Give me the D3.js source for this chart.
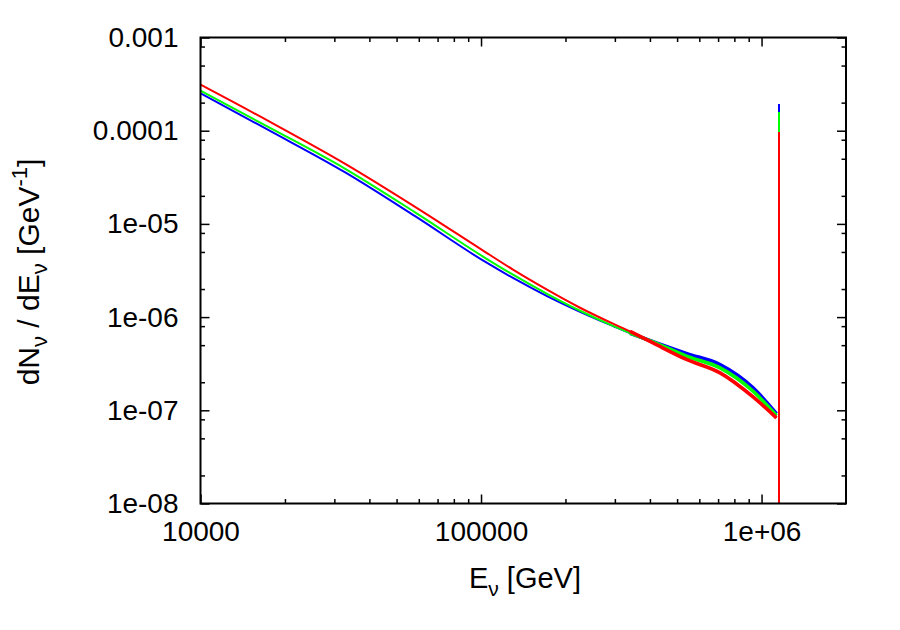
<!DOCTYPE html>
<html>
<head>
<meta charset="utf-8">
<script src="https://cdn.jsdelivr.net/npm/d3@7"></script>
<style>
  html, body { margin: 0; padding: 0; background: #fff; }
  svg { display: block; }
  text { font-family: "Liberation Sans", Arial, sans-serif; fill: #000; }
</style>
</head>
<body>
<svg id="chart" width="900" height="630"></svg>
<script>
// ---- data ----
const energy = [1.0e4, 1.77e4, 3.28e4, 5.82e4, 1.033e5, 1.30e5, 1.719e5, 2.254e5, 2.955e5, 3.398e5, 4.104e5, 5.425e5, 7.112e5, 9.327e5, 1.13e6];
const blueValues  = [2.52e-4, 9.95e-5, 3.57e-5, 1.21e-5, 3.93e-6, 2.63e-6, 1.68e-6, 1.14e-6, 8.01e-7, 6.72e-7, 5.45e-7, 4.05e-7, 3.09e-7, 1.74e-7, 9.22e-8];
const greenValues = [2.69e-4, 1.072e-4, 3.90e-5, 1.33e-5, 4.33e-6, 2.85e-6, 1.78e-6, 1.17e-6, 8.05e-7, 6.75e-7, 5.41e-7, 3.79e-7, 2.85e-7, 1.60e-7, 8.78e-8];
const redValues   = [3.12e-4, 1.243e-4, 4.41e-5, 1.525e-5, 5.02e-6, 3.23e-6, 1.97e-6, 1.26e-6, 8.50e-7, 7.03e-7, 5.28e-7, 3.49e-7, 2.52e-7, 1.39e-7, 8.29e-8];
// narrow peak at the end of the spectrum
const peakEnergy = 1.15e6;
const peakValues = { blue: 1.94e-4, green: 1.59e-4, red: 9.7e-5 };
const peakFloor = 1e-10;

const xTickValues = [1e4, 1e5, 1e6];
const xTickLabels = ["10000", "100000", "1e+06"];
const yTickValues = [1e-3, 1e-4, 1e-5, 1e-6, 1e-7, 1e-8];
const yTickLabels = ["0.001", "0.0001", "1e-05", "1e-06", "1e-07", "1e-08"];
const xMinorMult = [2, 3, 4, 5, 6, 7, 8, 9];
const yMinorMult = [2, 5, 8];

// ---- layout ----
const PL = 200.5, PR = 846, PT = 37.5, PB = 503.5;
const svg = d3.select("#chart");

const xScale = d3.scaleLog().domain([1e4, 2e6]).range([PL, PR]);
const yScale = d3.scaleLog().domain([1e-8, 1e-3]).range([PB, PT]);

svg.append("defs").append("clipPath").attr("id", "clip")
  .append("rect").attr("x", PL).attr("y", PT).attr("width", PR - PL).attr("height", PB - PT);

const series = [
  { name: "blue",  color: "#0000ff", values: blueValues },
  { name: "green", color: "#00ff00", values: greenValues },
  { name: "red",   color: "#ff0000", values: redValues }
];

const lineGen = d3.line().x(d => xScale(d[0])).y(d => yScale(d[1])).curve(d3.curveMonotoneX);
const spikeGen = d3.line().x(d => xScale(d[0])).y(d => yScale(d[1]));
const plotG = svg.append("g").attr("clip-path", "url(#clip)");

series.forEach(s => {
  const pts = energy.map((e, i) => [e, s.values[i]]);
  plotG.append("path").datum(pts)
    .attr("fill", "none").attr("stroke", s.color)
    .attr("stroke-width", 2).attr("stroke-linejoin", "round")
    .attr("d", lineGen);
  // fluctuating tail drawn as a wider band
  const tail = pts.filter(d => d[0] >= 3.3e5);
  plotG.append("path").datum(tail)
    .attr("fill", "none").attr("stroke", s.color)
    .attr("stroke-width", 3.6).attr("stroke-linejoin", "round")
    .attr("d", lineGen);
  // peak
  plotG.append("path").datum([[peakEnergy, peakValues[s.name]], [peakEnergy, peakFloor]])
    .attr("fill", "none").attr("stroke", s.color)
    .attr("stroke-width", 2).attr("shape-rendering", "crispEdges")
    .attr("d", spikeGen);
});

// ---- axes (ticks on all four sides, pointing inward) ----
const majorLen = 9, minorLen = 4.5;
const xMinor = [];
[1e4, 1e5, 1e6].forEach(d => xMinorMult.forEach(m => { const v = d * m; if (v < 2e6) xMinor.push(v); }));
const yMinor = [];
[1e-8, 1e-7, 1e-6, 1e-5, 1e-4].forEach(d => yMinorMult.forEach(m => yMinor.push(d * m)));

const axisG = svg.append("g");
const axBottom = d3.axisBottom(xScale).tickValues(xTickValues).tickSize(-majorLen).tickFormat((d, i) => xTickLabels[i]).tickPadding(18);
const axBottomMinor = d3.axisBottom(xScale).tickValues(xMinor).tickSize(-minorLen).tickFormat("");
const axTop = d3.axisTop(xScale).tickValues(xTickValues).tickSize(-majorLen).tickFormat("");
const axTopMinor = d3.axisTop(xScale).tickValues(xMinor).tickSize(-minorLen).tickFormat("");
const axLeft = d3.axisLeft(yScale).tickValues(yTickValues).tickSize(-majorLen).tickFormat((d, i) => yTickLabels[i]).tickPadding(22);
const axLeftMinor = d3.axisLeft(yScale).tickValues(yMinor).tickSize(-minorLen).tickFormat("");
const axRight = d3.axisRight(yScale).tickValues(yTickValues).tickSize(-majorLen).tickFormat("");
const axRightMinor = d3.axisRight(yScale).tickValues(yMinor).tickSize(-minorLen).tickFormat("");

function place(ax, tr) {
  const a = axisG.append("g").attr("transform", tr).call(ax);
  a.select(".domain").remove();
  a.selectAll(".tick line").attr("stroke", "#000").attr("stroke-width", 1.5);
  a.selectAll(".tick text").attr("font-size", 28).attr("fill", "#000")
    .attr("font-family", "'Liberation Sans', Arial, sans-serif");
  return a;
}
place(axBottom, `translate(0,${PB})`);
place(axBottomMinor, `translate(0,${PB})`);
place(axTop, `translate(0,${PT})`);
place(axTopMinor, `translate(0,${PT})`);
place(axLeft, `translate(${PL},0)`);
place(axLeftMinor, `translate(${PL},0)`);
place(axRight, `translate(${PR},0)`);
place(axRightMinor, `translate(${PR},0)`);

// frame
svg.append("rect").attr("x", PL).attr("y", PT).attr("width", PR - PL).attr("height", PB - PT)
  .attr("fill", "none").attr("stroke", "#000").attr("stroke-width", 2);

// ---- axis titles ----
const xt = svg.append("text").attr("x", 525).attr("y", 588).attr("text-anchor", "middle").attr("font-size", 29);
xt.append("tspan").text("E");
xt.append("tspan").attr("font-size", 21).attr("dy", 8).text("ν");
xt.append("tspan").attr("dy", -8).text(" [GeV]");

const yt = svg.append("text").attr("transform", "translate(39,272) rotate(-90)").attr("text-anchor", "middle").attr("font-size", 30);
yt.append("tspan").text("dN");
yt.append("tspan").attr("font-size", 22).attr("dy", 8).text("ν");
yt.append("tspan").attr("dy", -8).text(" / dE");
yt.append("tspan").attr("font-size", 22).attr("dy", 8).text("ν");
yt.append("tspan").attr("dy", -8).text(" [GeV");
yt.append("tspan").attr("font-size", 22).attr("dy", -12).text("-1");
yt.append("tspan").attr("dy", 12).text("]");
</script>
</body>
</html>
